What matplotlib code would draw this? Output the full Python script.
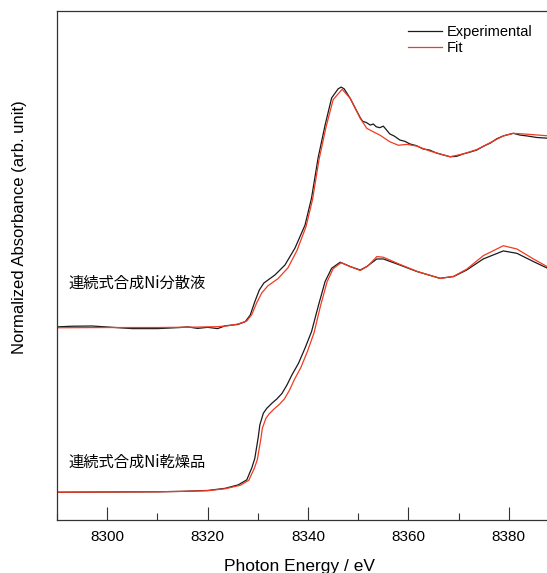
import numpy as np
import matplotlib
matplotlib.use('Agg')
import matplotlib.pyplot as plt
from matplotlib.ticker import MultipleLocator

plt.rcParams['font.family'] = ['Liberation Sans', 'DejaVu Sans']

# dried powder (lower spectrum)
E_dry_exp = [8290, 8300, 8310, 8315, 8320, 8323.5, 8326.1, 8327.8, 8328.8, 8329.4, 8330.1,
             8330.4, 8331.1, 8331.8, 8332.8, 8333.8, 8334.8, 8335.8, 8336.8, 8338.1, 8339.4,
             8340.7, 8342.1, 8343.4, 8344.7, 8346.4, 8348.4, 8350.4, 8351.7, 8353.7, 8355,
             8358.3, 8361.7, 8366.3, 8369, 8371.6, 8374.9, 8378.9, 8381.6, 8384.9, 8388]
mu_dry_exp = [0, 0.001, 0.002, 0.004, 0.008, 0.018, 0.034, 0.057, 0.112, 0.156, 0.256,
              0.310, 0.364, 0.387, 0.410, 0.430, 0.455, 0.494, 0.541, 0.594, 0.664,
              0.740, 0.863, 0.971, 1.032, 1.060, 1.040, 1.024, 1.040, 1.075, 1.075,
              1.047, 1.017, 0.986, 0.994, 1.024, 1.075, 1.112, 1.101, 1.063, 1.029]

E_dry_fit = [8290, 8300, 8310, 8315, 8320, 8323.5, 8326.5, 8328.2, 8329.3, 8329.9, 8330.6,
             8330.9, 8331.6, 8332.3, 8333.3, 8334.3, 8335.3, 8336.3, 8337.3, 8338.6, 8339.9,
             8341.2, 8342.5, 8343.8, 8345.0, 8346.6, 8348.4, 8350.4, 8351.9, 8353.7, 8355,
             8358.3, 8361.7, 8366.3, 8369, 8371.6, 8374.9, 8378.9, 8381.6, 8384.9, 8388]
mu_dry_fit = [0, 0.001, 0.002, 0.004, 0.007, 0.016, 0.032, 0.055, 0.110, 0.150, 0.245,
              0.295, 0.340, 0.362, 0.385, 0.405, 0.430, 0.470, 0.520, 0.576, 0.650,
              0.735, 0.860, 0.970, 1.030, 1.058, 1.040, 1.022, 1.042, 1.086, 1.083,
              1.050, 1.018, 0.985, 0.995, 1.028, 1.090, 1.136, 1.121, 1.075, 1.035]

# dispersion (upper spectrum), before offset
E_disp_exp = [8290, 8293, 8297, 8299, 8301, 8305, 8310, 8314.5, 8316, 8318, 8320, 8322,
              8323.5, 8326, 8327.5, 8328.5, 8329.4, 8330.3, 8331.2, 8333.4, 8335.4, 8337.4,
              8339.4, 8340.7, 8342, 8343.4, 8344.7, 8346.0, 8346.6, 8347.2, 8348.4, 8350.4,
              8350.9, 8351.6, 8352.4, 8353.0, 8353.6, 8354.3, 8355.0, 8356.3, 8357.2, 8358.3,
              8359.3, 8360.3, 8361.6, 8362.9, 8364.2, 8365.6, 8367.0, 8368.3, 8369.6, 8370.9,
              8372.2, 8373.6, 8375.0, 8376.3, 8377.6, 8378.9, 8380.0, 8380.9, 8382.2, 8383.6,
              8385.5, 8388]
mu_disp_exp = [0.003, 0.006, 0.007, 0.004, 0.001, -0.005, -0.005, 0.0, 0.003, -0.004, 0.001, -0.005,
               0.008, 0.014, 0.027, 0.058, 0.119, 0.173, 0.205, 0.242, 0.288, 0.366,
               0.472, 0.597, 0.781, 0.933, 1.058, 1.100, 1.108, 1.100, 1.056, 0.967,
               0.950, 0.945, 0.933, 0.938, 0.925, 0.921, 0.928, 0.892, 0.882, 0.864,
               0.858, 0.846, 0.838, 0.823, 0.818, 0.804, 0.795, 0.787, 0.789, 0.800,
               0.808, 0.818, 0.836, 0.850, 0.870, 0.883, 0.890, 0.895, 0.887, 0.883,
               0.876, 0.872]

E_disp_fit = [8290, 8300, 8310, 8318, 8322, 8324, 8326, 8327.8, 8328.8, 8329.8, 8330.8, 8332,
              8334, 8336, 8337.8, 8339.6, 8340.9, 8342.2, 8343.6, 8345, 8346.8, 8348.4, 8350.4,
              8351.7, 8353, 8354.3, 8356.3, 8358, 8359.7, 8361.7, 8364.3, 8368.3, 8370.9,
              8373.6, 8376.3, 8378.9, 8380.9, 8383.6, 8388]
mu_disp_fit = [-0.001, 0.0, 0.0, 0.002, 0.004, 0.008, 0.016, 0.030, 0.060, 0.115, 0.160, 0.192,
               0.225, 0.275, 0.355, 0.465, 0.590, 0.775, 0.925, 1.050, 1.098, 1.056, 0.964,
               0.918, 0.902, 0.887, 0.856, 0.840, 0.844, 0.836, 0.813, 0.787, 0.800,
               0.820, 0.852, 0.883, 0.895, 0.891, 0.883]

offset_disp = 0.759
label_disp = '連続式合成Ni分散液'
label_dry = '連続式合成Ni乾燥品'

c_exp = '#1a1a1a'
c_fit = '#f23a22'

fig = plt.figure(figsize=(5.47, 5.73), dpi=100)
ax = fig.add_axes([57/547, 53/573, 1 - 57/547, 509.5/573])

ax.plot(E_disp_exp, np.array(mu_disp_exp) + offset_disp, color=c_exp, lw=0.9, label='Experimental')
ax.plot(E_disp_fit, np.array(mu_disp_fit) + offset_disp, color=c_fit, lw=0.9, label='Fit')
ax.plot(E_dry_exp, mu_dry_exp, color=c_exp, lw=0.9)
ax.plot(E_dry_fit, mu_dry_fit, color=c_fit, lw=0.9)

ax.set_xlim(8290, 8387.6)
ax.set_ylim(-0.128, 2.22)

ax.spines['right'].set_visible(False)
for s in ['left', 'bottom', 'top']:
    ax.spines[s].set_linewidth(0.9)
    ax.spines[s].set_color('#333333')

ax.xaxis.set_major_locator(MultipleLocator(20))
ax.xaxis.set_minor_locator(MultipleLocator(10))
ax.tick_params(axis='x', which='major', direction='in', length=9.5, width=0.8,
               labelsize=11, pad=7, colors='#333333', labelcolor='black')
ax.tick_params(axis='x', which='minor', direction='in', length=5, width=0.8, colors='#333333')
ax.set_yticks([])

ax.text(11/490, (520 - 283)/509.5, label_disp, transform=ax.transAxes, va='center', ha='left',
        fontsize=11, family=['Noto Sans CJK JP', 'DejaVu Sans'])
ax.text(11/490, (520 - 462)/509.5, label_dry, transform=ax.transAxes, va='center', ha='left',
        fontsize=11, family=['Noto Sans CJK JP', 'DejaVu Sans'])

fig.text(300/547, 1 - 566/573, 'Photon Energy / eV', ha='center', va='center', fontsize=12.5)
fig.text(20/547, 1 - 227/573, 'Normalized Absorbance (arb. unit)', ha='center', va='center',
         rotation=90, fontsize=12)

leg = ax.legend(loc='upper left', bbox_to_anchor=((408 - 57)/490, (520 - 25)/509.5),
                frameon=False, fontsize=10.5, handlelength=2.3, handletextpad=0.35,
                borderpad=0, borderaxespad=0, labelspacing=0.15)

fig.savefig('out.png', dpi=100)
